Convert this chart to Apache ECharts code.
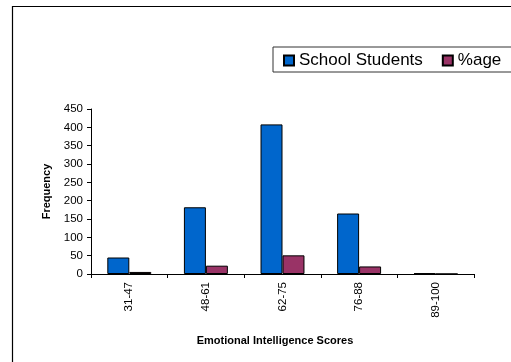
<!DOCTYPE html>
<html><head><meta charset="utf-8">
<script src="https://cdn.jsdelivr.net/npm/echarts@6/dist/echarts.min.js"></script>
<style>html,body{margin:0;padding:0;background:#fff}#c{width:511px;height:362px}</style>
</head><body><div id="c"></div>
<script>
var categories = ['31-47', '48-61', '62-75', '76-88', '89-100'];
var schoolStudents = [45, 182, 408, 165, 2];
var percentage = [5.6, 22.7, 50.9, 20.6, 0.25];
var yTicks = { min: 0, max: 450, interval: 50 };

var FONT = '"Liberation Sans", Arial, sans-serif';
var chart = echarts.init(document.getElementById('c'), null, { renderer: 'canvas' });
chart.setOption({
  animation: false,
  backgroundColor: '#fff',
  textStyle: { fontFamily: FONT, color: '#000' },
  graphic: [{
    type: 'polyline', silent: true,
    shape: { points: [[12.5, 400], [12.5, 6.5], [600, 6.5]] },
    style: { fill: null, stroke: '#000', lineWidth: 1.2 }
  }],
  legend: {
    orient: 'horizontal',
    left: 273, top: 47, width: 400,
    padding: [5, 20, 3, 10],
    itemGap: 19, itemWidth: 10, itemHeight: 10,
    icon: 'rect',
    borderColor: '#333', borderWidth: 1,
    textStyle: { fontFamily: FONT, fontSize: 17, color: '#000' },
    data: ['School Students', '%age']
  },
  grid: { left: 91, right: 37, top: 109, bottom: 88 },
  xAxis: {
    type: 'category',
    data: categories,
    name: 'Emotional Intelligence Scores',
    nameLocation: 'middle', nameGap: 61,
    nameTextStyle: { fontFamily: FONT, fontSize: 11, fontWeight: 'bold', color: '#000', padding: [0, 15, 0, 0] },
    axisLine: { lineStyle: { color: '#000', width: 1 } },
    axisTick: { show: true, length: 4, lineStyle: { color: '#000' } },
    axisLabel: { rotate: 90, margin: 8, fontSize: 11.5, color: '#000', fontFamily: FONT, interval: 0 },
    splitLine: { show: false }
  },
  yAxis: {
    type: 'value',
    min: yTicks.min, max: yTicks.max, interval: yTicks.interval,
    name: 'Frequency',
    nameLocation: 'middle', nameGap: 31,
    nameTextStyle: { fontFamily: FONT, fontSize: 11, fontWeight: 'bold', color: '#000' },
    axisLine: { show: true, lineStyle: { color: '#000', width: 1 } },
    axisTick: { show: true, length: 4, lineStyle: { color: '#000' } },
    axisLabel: { margin: 8, fontSize: 11.5, color: '#000', fontFamily: FONT },
    splitLine: { show: false }
  },
  series: [{
    name: 'School Students', type: 'bar', data: schoolStudents,
    barGap: '0%', barCategoryGap: '42.6%',
    itemStyle: { color: '#0066CC', borderColor: '#000', borderWidth: 1 }
  }, {
    name: '%age', type: 'bar', data: percentage,
    barGap: '0%', barCategoryGap: '42.6%',
    itemStyle: { color: '#993366', borderColor: '#000', borderWidth: 1 }
  }]
});
</script></body></html>
